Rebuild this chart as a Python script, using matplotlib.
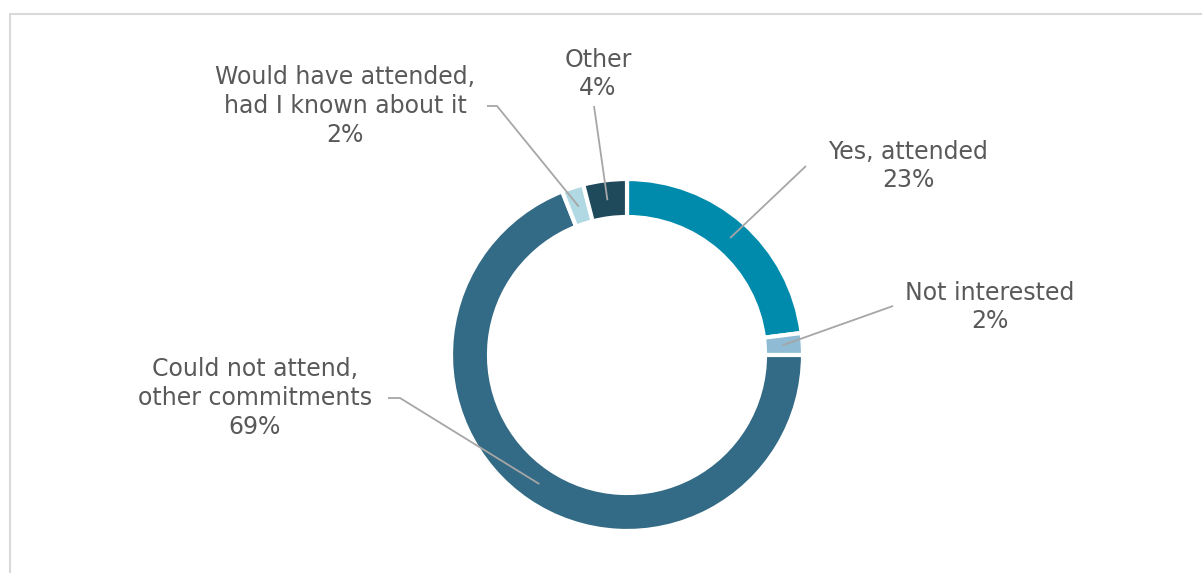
import numpy as np
import matplotlib
matplotlib.use("Agg")
import matplotlib.pyplot as plt
from matplotlib.patches import Rectangle

categories = ["Yes, attended", "Not interested", "Could not attend,\nother commitments",
              "Would have attended,\nhad I known about it", "Other"]
values = [23, 2, 69, 2, 4]
colors = ["#008bad", "#8fbcd4", "#336a85", "#b0d9e3", "#1e4a5c"]

W, H = 1202, 573
fig = plt.figure(figsize=(W / 100, H / 100), dpi=100)
ax = fig.add_axes([0, 0, 1, 1])

# chart frame
ax.add_patch(Rectangle((10, -20), W + 20, H - 14 + 20, fill=False,
                       edgecolor="#d9d9d9", linewidth=1.5))

cx, cy = 627, H - 355
R, ring = 176, 38
wedges, _ = ax.pie(values, colors=colors, startangle=90, counterclock=False,
                   radius=R, center=(cx, cy), frame=True,
                   wedgeprops=dict(width=ring, edgecolor="white", linewidth=3))
ax.set_xlim(0, W)
ax.set_ylim(0, H)
ax.set_aspect("equal")
ax.axis("off")

# label text centres (pixels from top-left) and leader start points
label_pos = [(908, 166), (990, 307), (255, 398), (345, 106), (598, 74)]
leader_start = [[(806, 166)], [(893, 306)], [(388, 398), (400, 398)],
                [(487, 106), (497, 106)], [(594, 106)]]

text_color = "#595959"
line_color = "#a6a6a6"
r_anchor = R - ring / 2 - 1
for w, cat, v, (lx, ly), pts in zip(wedges, categories, values, label_pos, leader_start):
    ang = np.deg2rad((w.theta1 + w.theta2) / 2)
    ex, ey = cx + r_anchor * np.cos(ang), cy + r_anchor * np.sin(ang)
    xs = [p[0] for p in pts] + [ex]
    ys = [H - p[1] for p in pts] + [ey]
    ax.plot(xs, ys, color=line_color, linewidth=1.3, solid_capstyle="butt", zorder=3)
    ax.text(lx, H - ly, f"{cat}\n{v}%", ha="center", va="center", fontsize=17,
            color=text_color, family="DejaVu Sans", linespacing=1.25)

fig.savefig("out.png", dpi=100, facecolor="white")
